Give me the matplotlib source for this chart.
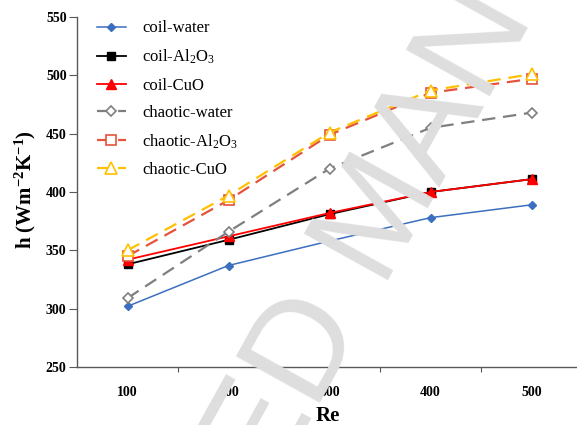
import numpy as np
import matplotlib
matplotlib.use("Agg")
import matplotlib.pyplot as plt

plt.rcParams['font.family'] = ['Liberation Serif', 'DejaVu Serif']
plt.rcParams['mathtext.default'] = 'regular'

# ── data ─────────────────────────────────────────────────────────────────────
re_labels = ["100", "200", "300", "400", "500"]
coil_water = [302, 337, 358, 378, 389]
coil_al2o3 = [338, 359, 381, 400, 411]
coil_cuo = [342, 362, 382, 400, 411]
chaotic_water = [309, 366, 420, 455, 468]
chaotic_al2o3 = [345, 393, 449, 485, 497]
chaotic_cuo = [350, 397, 451, 487, 501]

x = np.arange(len(re_labels))

fig = plt.figure(figsize=(5.77, 4.25), dpi=100)
ax = fig.add_axes([77 / 577, 1 - 367 / 425, 505 / 577, 350 / 425])

# ── series ───────────────────────────────────────────────────────────────────
ax.plot(x, coil_water, color='#3c6fbf', lw=1.1, marker='D', ms=4.5,
        label='coil-water')
ax.plot(x, coil_al2o3, color='black', lw=1.3, marker='s', ms=6,
        label='coil-Al$_2$O$_3$')
ax.plot(x, coil_cuo, color='#ff0000', lw=1.3, marker='^', ms=6.5,
        label='coil-CuO')
ax.plot(x, chaotic_water, color='#7f7f7f', lw=1.6, ls=(0, (6, 3.5)),
        marker='D', ms=5, mfc='white', mec='#7f7f7f', mew=1.2,
        label='chaotic-water')
ax.plot(x, chaotic_al2o3, color='#e5533d', lw=1.6, ls=(0, (6, 3.5)),
        marker='s', ms=7, mfc='white', mec='#e5533d', mew=1.2,
        label='chaotic-Al$_2$O$_3$')
ax.plot(x, chaotic_cuo, color='#ffc000', lw=1.6, ls=(0, (6, 3.5)),
        marker='^', ms=9, mfc='white', mec='#ffc000', mew=1.2,
        label='chaotic-CuO')

# ── axes ─────────────────────────────────────────────────────────────────────
ax.set_xlim(-0.5, 4.5)
ax.set_ylim(250, 550)
ax.set_yticks(np.arange(250, 551, 50))
ax.set_xticks(x[:-1] + 0.5)
ax.set_xticklabels([])
ax.set_xticks(x, minor=True)
ax.set_xticklabels(re_labels, minor=True)
ax.tick_params(axis='x', which='major', length=3.5, color='#595959', direction='out')
ax.tick_params(axis='x', which='minor', length=0, pad=14, labelsize=10)
ax.tick_params(axis='y', length=5.5, pad=2, color='#595959', labelsize=10)
for lab in ax.get_xticklabels(minor=True) + ax.get_yticklabels():
    lab.set_fontweight('bold')

for s in ['top', 'right']:
    ax.spines[s].set_visible(False)
for s in ['left', 'bottom']:
    ax.spines[s].set_color('#595959')
    ax.spines[s].set_linewidth(1.0)

fig.text(25 / 577, 1 - 190 / 425, 'h (Wm$^{-2}$K$^{-1}$)', rotation=90,
         ha='center', va='center', fontsize=15, fontweight='bold')
fig.text(328 / 577, 1 - 416 / 425, 'Re', ha='center', va='center',
         fontsize=15, fontweight='bold')

ax.legend(loc='upper left', bbox_to_anchor=(0.04, 0.99), frameon=False,
          fontsize=12, borderpad=0, borderaxespad=0, labelspacing=0.68,
          handlelength=1.7, handletextpad=1.0)

# watermark
fig.text(382 / 577, 1 - 218 / 425, 'ACCEPTED MANUSCRIPT', family='Liberation Sans',
         fontsize=101, color='#dedede', rotation=61, rotation_mode='anchor',
         ha='center', va='center', zorder=10)

fig.savefig('out.png', dpi=100)
